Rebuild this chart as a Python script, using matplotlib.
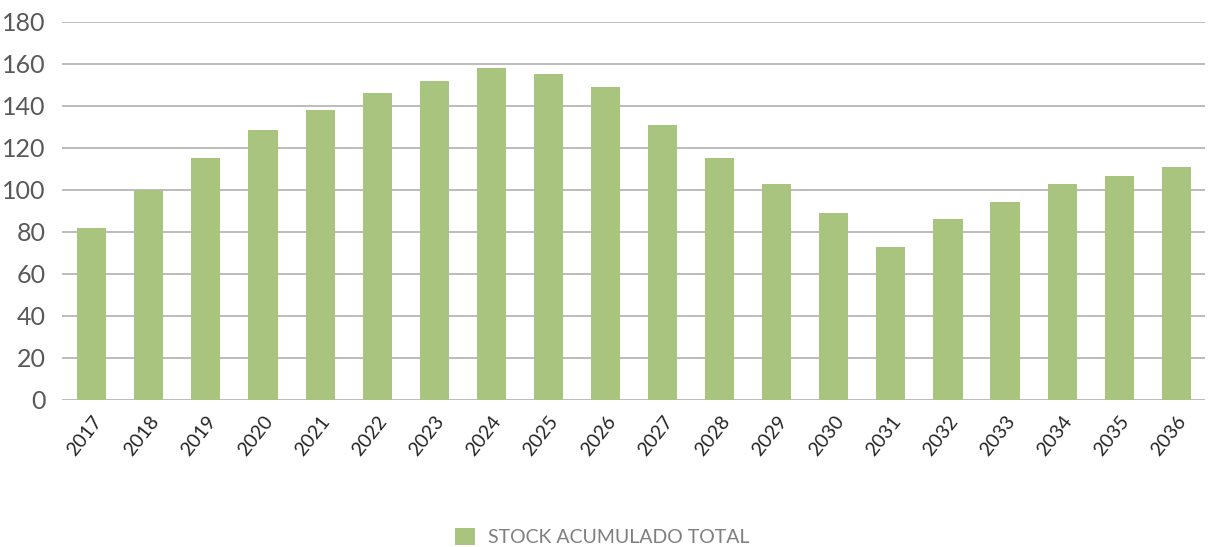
import matplotlib
matplotlib.use("Agg")
import matplotlib.pyplot as plt
from matplotlib.patches import Patch

years = [str(y) for y in range(2017, 2037)]
stock = [82, 100, 115, 128.5, 138, 146, 152, 158, 155, 149,
         131, 115, 103, 89, 73, 86, 94, 103, 106.5, 111]
yticks = [0, 20, 40, 60, 80, 100, 120, 140, 160, 180]

plt.rcParams['font.family'] = ['Lato', 'DejaVu Sans']
bar_color = '#A9C47F'
text_color = '#595959'

fig = plt.figure(figsize=(12.17, 5.47), dpi=100)
ax = fig.add_axes([0.051, 0.269, 0.939, 0.691])
x = range(len(years))
ax.bar(x, stock, width=0.51, color=bar_color, zorder=3, label='STOCK ACUMULADO TOTAL')
ax.set_xlim(-0.52, 19.5)
ax.set_ylim(0, 180)
ax.set_yticks(yticks)
ax.set_yticklabels([str(v) for v in yticks], fontsize=18, color=text_color)
ax.set_xticks(list(x))
ax.set_xticklabels(years, rotation=52, ha='right', rotation_mode='anchor',
                   fontsize=14, color='#262626')
ax.tick_params(axis='both', length=0)
ax.tick_params(axis='y', pad=12)
ax.tick_params(axis='x', pad=9)
ax.grid(axis='y', color='#b0b0b0', linewidth=1.2, zorder=0)
for s in ax.spines.values():
    s.set_visible(False)

handle = Patch(facecolor=bar_color, edgecolor='none')
fig.legend([handle], ['STOCK ACUMULADO TOTAL'], loc='center',
           bbox_to_anchor=(0.495, 0.018), frameon=False, fontsize=14,
           labelcolor='#7f7f7f', handlelength=1.0, handleheight=1.0,
           handletextpad=0.7)

fig.savefig('out.png', dpi=100)
